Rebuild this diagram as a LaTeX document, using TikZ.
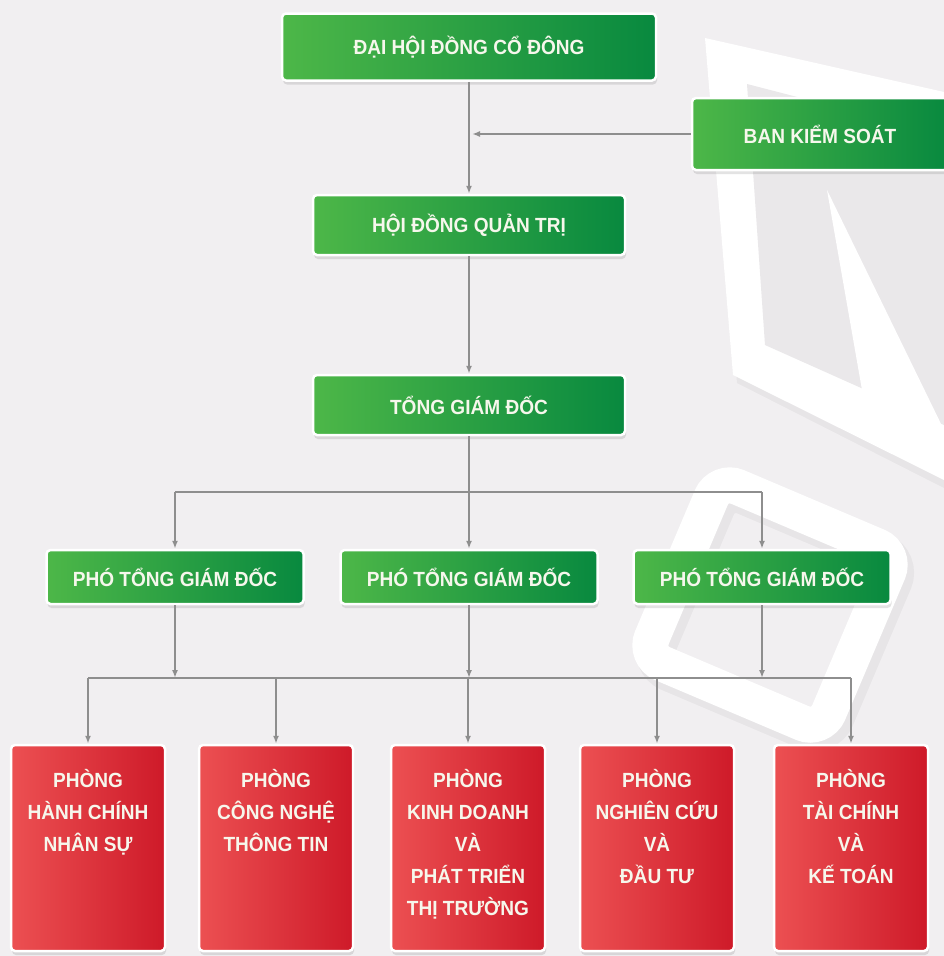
\documentclass[tikz,border=0pt]{standalone}
\usepackage{fontspec}
\setmainfont{Liberation Sans}[FakeStretch=0.93]
\usetikzlibrary{arrows.meta,shadows,positioning}

\definecolor{bgGray}{HTML}{F1EFF1}
\definecolor{decoGray}{HTML}{EAE8EA}
\definecolor{greenL}{HTML}{4DB748}
\definecolor{greenD}{HTML}{08893F}
\definecolor{redL}{HTML}{EC5052}
\definecolor{redD}{HTML}{CE1A29}
\definecolor{lineGray}{HTML}{8E8E8E}
\definecolor{labelWhite}{HTML}{F6F7EC}

\tikzset{
    box/.style={draw=white, line width=2.5pt, rounded corners=4pt,
        inner sep=0pt, text=labelWhite,
        drop shadow={shadow xshift=1pt, shadow yshift=-4pt, opacity=0.22}},
    greenbox/.style={box, left color=greenL, right color=greenD,
        font=\bfseries\fontsize{20.5}{24}\selectfont},
    redbox/.style={box, left color=redL, right color=redD,
        minimum width=154pt, minimum height=206pt},
    redtext/.style={text=labelWhite, align=center, inner sep=0pt,
        font=\bfseries\fontsize{20.5}{32}\selectfont},
    link/.style={draw=lineGray, line width=1.6pt},
    conn/.style={link, -{Latex[length=8pt,width=6pt]}},
}

\begin{document}
\begin{tikzpicture}[x=1pt, y=-1pt]
    \useasboundingbox (0,0) rectangle (944,956);
    \fill[bgGray] (0,0) rectangle (944,956);

    % Background shapes
    \fill[black, opacity=0.04] (709,44) -- (944,98) -- (944,488) -- (737,383) -- cycle;
    \fill[white] (705,38) -- (944,92) -- (944,480) -- (733,375) -- cycle;
    \fill[decoGray] (747,84) -- (944,135) -- (944,425) -- (765,345) -- cycle;
    \fill[white] (827,190) -- (944,430) -- (944,442) -- (862,390) -- cycle;

    \draw[black, opacity=0.04, line width=40pt, rounded corners=22pt,
          rotate around={-23:(775,612)}]
        (679,516) rectangle (871,708);
    \draw[white, line width=36pt, rounded corners=20pt,
          rotate around={-23:(770,605)}]
        (674,509) rectangle (866,701);

    % Top level
    \node[greenbox, minimum width=374pt, minimum height=67pt]
        (dhdcd) at (469,47) {ĐẠI HỘI ĐỒNG CỔ ĐÔNG};
    \node[greenbox, minimum width=256pt, minimum height=72pt]
        (bks) at (820,134) {BAN KIỂM SOÁT};
    \node[greenbox, minimum width=312pt, minimum height=60pt]
        (hdqt) at (469,225) {HỘI ĐỒNG QUẢN TRỊ};
    \node[greenbox, minimum width=312pt, minimum height=60pt]
        (tgd) at (469,405) {TỔNG GIÁM ĐỐC};

    % Deputies
    \foreach \x [count=\i from 1] in {175,469,762} {
        \node[greenbox, minimum width=257pt, minimum height=54pt]
            (ptgd\i) at (\x,577) {PHÓ TỔNG GIÁM ĐỐC};
    }

    % Departments
    \foreach \x/\label [count=\i from 1] in {
        88/{PHÒNG\\HÀNH CHÍNH\\NHÂN SỰ},
        276/{PHÒNG\\CÔNG NGHỆ\\THÔNG TIN},
        468/{PHÒNG\\KINH DOANH\\VÀ\\PHÁT TRIỂN\\THỊ TRƯỜNG},
        657/{PHÒNG\\NGHIÊN CỨU\\VÀ\\ĐẦU TƯ},
        851/{PHÒNG\\TÀI CHÍNH\\VÀ\\KẾ TOÁN}} {
        \node[redbox] (dept\i) at (\x,848) {};
        \node[redtext, below=25pt of dept\i.north] (deptLabel\i) {\label};
    }

    % Connectors
    \draw[conn] (dhdcd) -- (hdqt);
    \draw[conn] (bks.west) -- ([xshift=3pt]bks.west -| hdqt.north);
    \draw[conn] (hdqt) -- (tgd);

    \coordinate (busTop) at (469,492);
    \draw[conn] (tgd) -- (ptgd2);
    \draw[link] (ptgd1.north |- busTop) -- (ptgd3.north |- busTop);
    \foreach \i in {1,3} {
        \draw[conn] (ptgd\i.north |- busTop) -- (ptgd\i.north);
    }

    \coordinate (busLow) at (469,678);
    \draw[link] (dept1.north |- busLow) -- (dept5.north |- busLow);
    \foreach \i in {1,2,3} {
        \draw[conn] (ptgd\i.south) -- (ptgd\i.south |- busLow);
    }
    \foreach \i in {1,...,5} {
        \draw[conn] (dept\i.north |- busLow) -- (dept\i.north);
    }

\end{tikzpicture}
\end{document}
